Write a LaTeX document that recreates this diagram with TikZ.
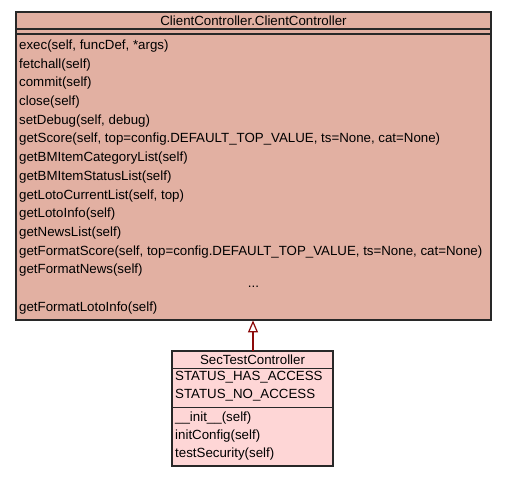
\documentclass[tikz,border=0pt]{standalone}
\usepackage{fontspec}
\setmainfont{Liberation Sans}
\usetikzlibrary{arrows.meta}
\definecolor{bigfill}{RGB}{226,176,162}
\definecolor{smallfill}{RGB}{254,214,214}
\definecolor{edgered}{RGB}{140,10,10}
\definecolor{boxline}{RGB}{40,40,40}
\begin{document}
\begin{tikzpicture}[x=1pt,y=-1pt,
  classbox/.style={draw=boxline,line width=1.1pt,inner sep=0pt},
  member/.style={anchor=west,inner sep=0pt,font=\fontsize{13.3}{15}\selectfont},
  ctitle/.style={inner sep=0pt,font=\fontsize{13.3}{15}\selectfont},
  sepline/.style={draw=boxline,line width=1.1pt}]
\useasboundingbox (0,0) rectangle (507,477);
% big class
\path[fill=bigfill,classbox] (16,12) rectangle (491,320);
\node[draw=none,inner sep=0pt,minimum width=475pt,minimum height=308pt,anchor=north west] (cc) at (16,12) {};
\draw[sepline] (16,29) -- (491,29);
\draw[sepline] (16,34) -- (491,34);
\node[ctitle] (cct) at (253.5,20.5) {ClientController.ClientController};
\foreach \i/\t in {0/{exec(self, funcDef, *args)},1/{fetchall(self)},2/{commit(self)},3/{close(self)},4/{setDebug(self, debug)},5/{getScore(self, top=config.DEFAULT\_TOP\_VALUE, ts=None, cat=None)},6/{getBMItemCategoryList(self)},7/{getBMItemStatusList(self)},8/{getLotoCurrentList(self, top)},9/{getLotoInfo(self)},10/{getNewsList(self)},11/{getFormatScore(self, top=config.DEFAULT\_TOP\_VALUE, ts=None, cat=None)},12/{getFormatNews(self)},14/{getFormatLotoInfo(self)}}
  \node[member] (m\i) at (19,{46+18.7*\i}) {\t};
\node[ctitle] (dots) at (253.5,{46+18.7*13-2}) {...};
% small class
\path[fill=smallfill,classbox] (172,351) rectangle (333,466);
\node[draw=none,inner sep=0pt,minimum width=161pt,minimum height=115pt,anchor=north west] (st) at (172,351) {};
\draw[sepline] (172,368.5) -- (333,368.5);
\draw[sepline] (172,407.5) -- (333,407.5);
\node[ctitle] (stt) at (252.5,359.5) {SecTestController};
\node[member] (a1) at (175,377.5) {STATUS\_HAS\_ACCESS};
\node[member] (a2) at (175,395.5) {STATUS\_NO\_ACCESS};
\node[member] (s1) at (175,418) {\_\_init\_\_(self)};
\node[member] (s2) at (175,436) {initConfig(self)};
\node[member] (s3) at (175,454.5) {testSecurity(self)};
% inheritance
\draw[edgered,line width=2pt,-{Triangle[open,length=12pt,width=10pt,line width=1.2pt,fill=white]}] (st.north -| 253,0) -- (cc.south -| 253,0);
\end{tikzpicture}
\end{document}
